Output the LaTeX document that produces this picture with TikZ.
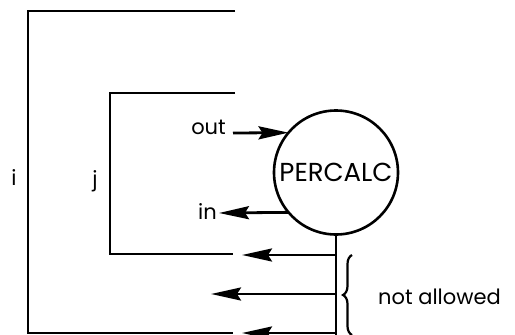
\documentclass[tikz,border=0pt]{standalone}
\usepackage{fontspec}
\setmainfont{Poppins}
\usetikzlibrary{arrows.meta,decorations.pathreplacing}
\begin{document}
\begin{tikzpicture}[x=1pt,y=-1pt,
  wire/.style={line width=2.8pt},
  arr/.style={line width=2.8pt,-{Stealth[length=30pt,width=13pt,inset=4pt]}},
  lbl/.style={inner sep=0pt,font=\fontsize{21}{24}\selectfont}]
\useasboundingbox (0,0) rectangle (515,335);
% outer bracket
\coordinate (oa) at (235,11);
\coordinate (ob) at (28,11);
\coordinate (oc) at (28,333);
\coordinate (od) at (233,333);
\draw[wire] (oa) -- (ob) -- (oc) -- (od);
% inner bracket
\coordinate (ia) at (235,93);
\coordinate (ib) at (110,93);
\coordinate (ic) at (110,254);
\coordinate (id) at (233,254);
\draw[wire] (ia) -- (ib) -- (ic) -- (id);
% circle
\node[draw,circle,line width=2.6pt,minimum size=124pt,inner sep=0pt,outer sep=0pt,
  font=\fontsize{26}{28}\selectfont] (pc) at (336,172.5) {PERCALC};
% labels
\node[lbl] (li) at (14,178) {i};
\node[lbl] (lj) at (95,181) {j};
\node[lbl,anchor=base east] (lout) at (226,134) {out};
\node[lbl,anchor=base east] (lin) at (217,219) {in};
% out / in arrows
\coordinate (outS) at (233,133);
\draw[arr] (outS) -- (pc.140.4);
\coordinate (inE) at (219,213);
\draw[arr] (pc.220.8) -- (inE);
% vertical line
\coordinate (vb) at (336,335);
\draw[wire] (pc.south) -- (vb);
\coordinate (v1) at (336,255);
\coordinate (v2) at (336,294);
\coordinate (v3) at (336,333);
\coordinate (t1) at (242,255);
\coordinate (t2) at (211,294);
\coordinate (t3) at (242,333);
\draw[arr] (v1) -- (t1);
\draw[arr] (v2) -- (t2);
\draw[arr] (v3) -- (t3);
% brace
\coordinate (b1) at (352,255);
\coordinate (b2) at (352,335);
\draw[line width=2.2pt,decorate,decoration={brace,amplitude=9pt,mirror}] (b1) -- (b2);
\node[lbl,anchor=west] (na) at (378,297) {not allowed};
\end{tikzpicture}
\end{document}
